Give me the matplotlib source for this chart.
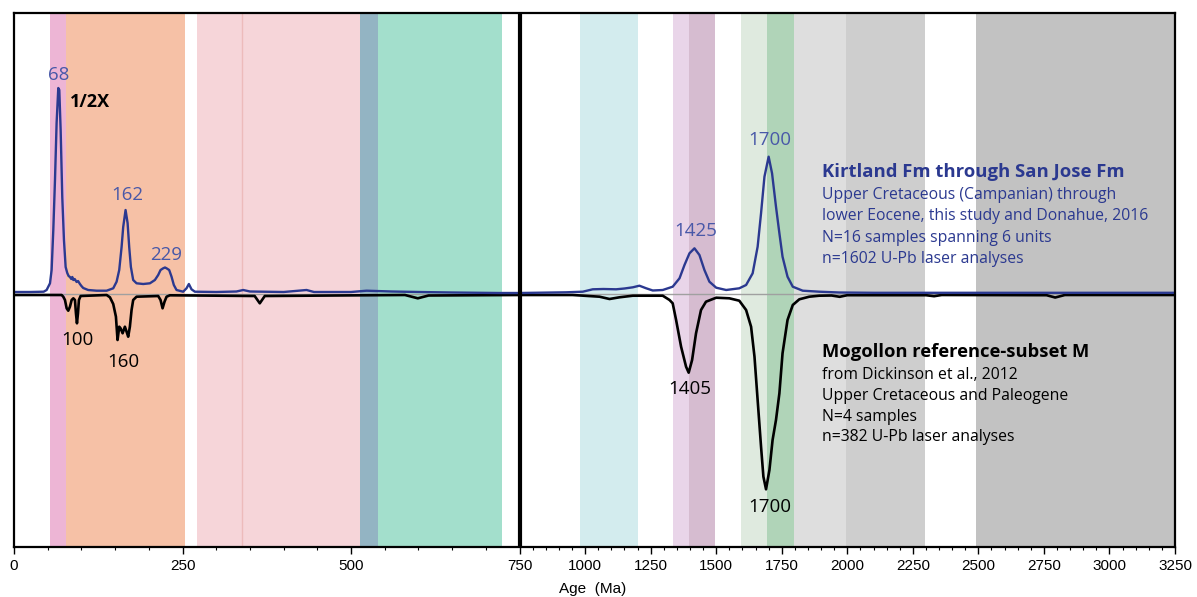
import numpy as np
import matplotlib
matplotlib.use("Agg")
import matplotlib.pyplot as plt

# --- detrital zircon age spectra ---
blue_age = [0, 24, 44, 48.4, 53.4, 55.8, 58.3, 60.8, 63.2, 65.7, 67.2, 69.2,
            71.6, 74.1, 76.6, 79, 81, 83, 85, 86.5, 88, 90, 92.9, 95, 97.8,
            100, 102.7, 110, 122.5, 137.4, 147.2, 152.2, 156.1, 159.6, 162,
            165.5, 168.5, 170.9, 173.4, 176.8, 181.8, 191.7, 201.6, 209,
            213.9, 217.4, 221.3, 224, 226.3, 230.2, 233.7, 237.1, 241.1,
            250.9, 255.9, 259.4, 263.3, 268.3, 300, 330, 340, 350, 400, 434,
            445, 500, 523, 560, 600, 650, 720, 750, 800, 928, 991, 1029, 1070,
            1118, 1150, 1182, 1207, 1233, 1258, 1296, 1334, 1360, 1379, 1398,
            1417, 1436, 1455, 1474, 1500, 1538, 1588, 1614, 1639, 1658, 1671,
            1684, 1700, 1713, 1728, 1741, 1753, 1772, 1792, 1830, 1893, 1970,
            2100, 2300, 2500, 3250]
blue_val = [2, 2, 2.3, 4, 10.7, 24, 64, 114, 171, 206, 204, 164,
            97, 54, 27, 21, 18, 17, 15, 17, 14, 15, 12, 13, 10,
            8, 6, 4, 3.3, 3.3, 5.7, 12.3, 24, 47, 67,
            84, 71, 47, 27, 14, 10.7, 10, 10.7, 14,
            19, 24, 25.7, 26.5, 25.7, 24, 17.3, 9, 4,
            2.3, 5.7, 10, 4.7, 2.3, 2, 2.5, 4, 2.5, 2, 4,
            2, 2, 3.3, 2.5, 2, 1.5, 1, 1, 1.2, 1.7, 2.3, 4.7, 5,
            4.7, 5.5, 6.7, 8.3, 5.7, 3.5, 4, 7.3, 15.7, 29, 40.7,
            45.7, 39, 24, 12.3, 6.3, 4, 5.7, 9, 20.7, 47.3, 80.7,
            117.3, 137.3, 120.7, 87.3, 60.7, 37.3, 17.3, 7.3, 3.3, 2.3, 1.5,
            1.2, 1.2, 1.2, 1.2]

black_age = [0, 70.7, 73.1, 75.6, 78.1, 80.5, 83, 85.5, 88, 90.4, 91.9, 93.4,
             94.9, 96.3, 98.8, 137.4, 142.3, 147.2, 151.2, 153.6, 156.1,
             158.1, 161.1, 164.5, 167, 169.4, 171.9, 174.4, 176.8, 181.8,
             213.9, 217.4, 220.4, 223.3, 226.3, 231.2, 357, 364.6, 372, 580,
             599, 615, 750, 952, 1055, 1093, 1131, 1182, 1296, 1322, 1334,
             1347, 1366, 1385, 1395, 1408, 1423, 1442, 1461, 1500, 1550, 1588,
             1614, 1633, 1646, 1658, 1671, 1680, 1690, 1703, 1715, 1728, 1741,
             1753, 1772, 1792, 1817, 1855, 1893, 1940, 1971, 2000, 2300, 2331,
             2360, 2760, 2793, 2830, 3250]
black_val = [-1, -1, -2.7, -6, -14.3, -16.7, -12.7, -6, -4.3, -6, -19.3, -29.3,
             -19.3, -6, -2, -1, -3.3, -10, -22.7, -46, -32.7,
             -34.3, -39.3, -32.7, -37.7, -42.7, -32.7, -16, -6, -2.7,
             -2, -6, -14.3, -7.7, -2.7, -1.3, -2, -9.3, -2, -1,
             -4.3, -1.5, -1, -1, -2.7, -5, -3.3, -1.7, -1.7, -6, -9.3,
             -26, -52.7, -72.7, -78.7, -66, -39.3, -16, -7.7, -3.7, -4.3, -6.7,
             -16, -32.7, -62.7, -106, -152.7, -182.7, -195.3, -176, -146, -126,
             -99.3, -59.3, -26, -11, -5.3, -2.7, -1.7, -1.5, -2.8, -1.2, -1.2,
             -2.2, -1, -1.2, -3.5, -1, -1]

# --- age bands behind the curves ---
band_start = [54, 77, 271, 514, 540, 982, 1337, 1398, 1596, 1695, 1797, 1995, 2490]
band_end = [77, 253, 514, 540, 724, 1200, 1398, 1496, 1695, 1797, 1995, 2296, 3250]
band_color = ["#EDB5D5", "#F6C1A6", "#F6D5D9", "#93B4C3", "#A3DFCC",
              "#D3ECEE", "#E9D5E9", "#D6BCD0", "#DFEADF", "#B0D4B8",
              "#DEDEDE", "#CECECE", "#C2C2C2"]

# --- peak labels ---
blue_peaks = ["68", "162", "229", "1425", "1700"]
blue_peak_x = [65.7, 168, 226, 1421, 1703]
blue_peak_y = [219, 99, 39, 63, 154]
black_peaks = ["100", "160", "1405", "1700"]
black_peak_x = [94, 162, 1400, 1703]
black_peak_y = [-46, -68, -95, -213]

blue_lines = ["Upper Cretaceous (Campanian) through",
              "lower Eocene, this study and Donahue, 2016",
              "N=16 samples spanning 6 units",
              "n=1602 U-Pb laser analyses"]
black_lines = ["from Dickinson et al., 2012",
               "Upper Cretaceous and Paleogene",
               "N=4 samples",
               "n=382 U-Pb laser analyses"]

BREAK = 750
K = 0.3889  # compression of the old side of the axis


def fwd(a):
    a = np.asarray(a, dtype=float)
    return np.where(a <= BREAK, a, BREAK + (a - BREAK) * K)


def inv(u):
    u = np.asarray(u, dtype=float)
    return np.where(u <= BREAK, u, BREAK + (u - BREAK) / K)


BLUE = "#2B3990"
BLUE_TXT = "#4858A8"
TXT_FONT = ["Open Sans", "DejaVu Sans"]

fig = plt.figure(figsize=(11.97, 5.97), dpi=100)
ax = fig.add_axes([14 / 1197, 1 - 547 / 597, 1161 / 1197, 534 / 597])
ax.set_xscale("function", functions=(fwd, inv))
ax.set_xlim(0, 3250)
ax.set_ylim(-253, 281)

for s, e, c in zip(band_start, band_end, band_color):
    ax.axvspan(s, e, color=c, lw=0, zorder=0)
ax.axvline(338, color="#EDBBBB", lw=1, zorder=0.5)

ax.axhline(0, color="#A0A0A0", lw=1, zorder=1)
ax.axvline(BREAK, color="black", lw=3, zorder=4)

ax.plot(black_age, black_val, color="black", lw=1.9, zorder=3)
ax.plot(blue_age, blue_val, color=BLUE, lw=1.7, zorder=3)

for t, x, y in zip(blue_peaks, blue_peak_x, blue_peak_y):
    ax.text(x, y, t, color=BLUE_TXT, fontsize=13.5, ha="center", va="center",
            family=TXT_FONT)
for t, x, y in zip(black_peaks, black_peak_x, black_peak_y):
    ax.text(x, y, t, color="black", fontsize=13.5, ha="center", va="center",
            family=TXT_FONT)
ax.text(83, 192, "1/2X", color="black", fontsize=13, fontweight="bold",
        ha="left", va="center", family=TXT_FONT)

# legends as text blocks
ax.text(1903, 122, "Kirtland Fm through San Jose Fm", color=BLUE,
        fontsize=13.3, fontweight="bold", va="center", family=TXT_FONT)
for i, t in enumerate(blue_lines):
    ax.text(1903, 99 - i * 21.3, t, color=BLUE, fontsize=11.3, va="center",
            family=TXT_FONT)
ax.text(1903, -57.7, "Mogollon reference-subset M", color="black",
        fontsize=13.2, fontweight="bold", va="center", family=TXT_FONT)
for i, t in enumerate(black_lines):
    ax.text(1903, -81 - i * 20.8, t, color="black", fontsize=11.3,
            va="center", family=TXT_FONT)

ax.set_xticks(np.arange(0, 3251, 250))
ax.set_xticks(np.arange(0, 3251, 50), minor=True)
ax.set_yticks([])
ax.tick_params(axis="x", which="major", direction="out", length=5, width=1,
               labelsize=11, pad=4)
ax.tick_params(axis="x", which="minor", direction="out", length=2.5, width=0.8)
for lab in ax.get_xticklabels():
    lab.set_family("Liberation Sans")
for sp in ax.spines.values():
    sp.set_linewidth(1.6)
    sp.set_zorder(5)

fig.text(593 / 1197, 1 - 589 / 597, "Age  (Ma)", ha="center", va="center",
         fontsize=11, family="Liberation Sans")

fig.savefig("out.png", dpi=100)
